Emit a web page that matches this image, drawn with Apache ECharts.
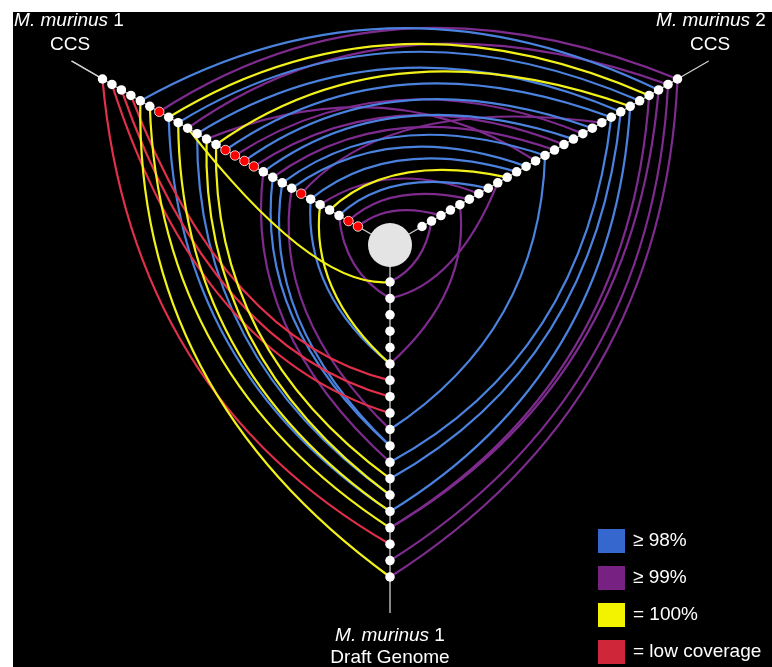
<!DOCTYPE html>
<html><head><meta charset="utf-8">
<script src="https://cdn.jsdelivr.net/npm/echarts@6/dist/echarts.min.js"></script>
<style>html,body{margin:0;padding:0;background:#fff}#c{width:772px;height:667px}</style>
</head><body><div id="c"></div>
<script>
// ---- axes ----
const AX_LEFT = 0, AX_RIGHT = 1, AX_BOTTOM = 2;
const axisAngles = [150, 30, 270];
const axisNodeCounts = [28, 28, 19];
// red (low coverage) nodes on the M. murinus 1 CCS axis, counted from the outer end
const leftRedNodes = [6, 13, 14, 15, 16, 21, 26, 27];

// ---- categories ----
const categories = ['≥ 98%', '≥ 99%', '= 100%', '= low coverage'];
const legendColors = ['#3567cf', '#772183', '#f3f300', '#d0263a'];
const lineColors = ['#4a82de', '#7e2b8e', '#f2f21a', '#e2304a'];

// ---- links: [node on first axis, node on second axis, category] ----
// CCS axes counted from the outer end, Draft Genome axis counted from the centre
const leftRightLinks = [
  [4, 2, 0], [6, 0, 1], [7, 3, 2], [8, 4, 0], [9, 1, 1], [10, 6, 0], [11, 15, 1],
  [12, 5, 2], [13, 7, 0], [14, 10, 1], [15, 9, 0], [16, 12, 1], [17, 11, 0],
  [18, 13, 1], [19, 14, 0], [20, 16, 0], [21, 8, 1], [22, 17, 0], [24, 18, 2],
  [25, 20, 0], [26, 22, 1], [27, 25, 1], [23, 21, 1]
];
const leftBottomLinks = [
  [0, 16, 3], [1, 8, 3], [2, 7, 3], [3, 6, 3],
  [4, 18, 2], [5, 15, 2], [7, 14, 0], [8, 14, 2], [9, 0, 2], [10, 13, 0], [11, 13, 2], [12, 12, 2],
  [17, 11, 1], [18, 10, 0], [19, 10, 0], [20, 9, 1], [22, 5, 0], [23, 5, 2], [25, 1, 1]
];
const rightBottomLinks = [
  [0, 18, 1], [1, 17, 1], [2, 15, 1], [3, 15, 1], [5, 14, 0], [6, 12, 0], [7, 11, 0],
  [14, 9, 0], [19, 1, 1], [23, 5, 1], [26, 0, 1]
];

// ---- layout constants (pixels) ----
const innerPx = 37, outerPx = 332, axisPx = 368;
const rMin = -innerPx / (outerPx - innerPx);
const rMax = (axisPx - innerPx) / (outerPx - innerPx);
const K = 0.95;

function nodeP(axis, idx) {
  const n = axisNodeCounts[axis];
  return axis === AX_BOTTOM ? idx / (n - 1) : 1 - idx / (n - 1);
}
function midAngle(a1, a2) {
  let x = axisAngles[a1], y = axisAngles[a2];
  if (Math.abs(x - y) > 180) { if (x < y) x += 360; else y += 360; }
  return ((x + y) / 2) % 360;
}

const linkData = [[], [], [], []];
leftRightLinks.forEach(l => linkData[l[2]].push([AX_LEFT, l[0], AX_RIGHT, l[1]]));
leftBottomLinks.forEach(l => linkData[l[2]].push([AX_LEFT, l[0], AX_BOTTOM, l[1]]));
rightBottomLinks.forEach(l => linkData[l[2]].push([AX_RIGHT, l[0], AX_BOTTOM, l[1]]));

function linkRender(cat) {
  return function (params, api) {
    const a1 = api.value(0), i1 = api.value(1), a2 = api.value(2), i2 = api.value(3);
    const P0 = api.coord([nodeP(a1, i1), axisAngles[a1]]);
    const P3 = api.coord([nodeP(a2, i2), axisAngles[a2]]);
    const O = api.coord([rMin, 0]);
    const r1 = Math.hypot(P0[0] - O[0], P0[1] - O[1]);
    const r2 = Math.hypot(P3[0] - O[0], P3[1] - O[1]);
    const rc = K * Math.sqrt(r1 * r2);
    const C = api.coord([(rc - innerPx) / (outerPx - innerPx), midAngle(a1, a2)]);
    return {
      type: 'bezierCurve',
      shape: { x1: P0[0], y1: P0[1], x2: P3[0], y2: P3[1], cpx1: C[0], cpy1: C[1] },
      style: { stroke: lineColors[cat], lineWidth: 2.2, fill: null }
    };
  };
}

const nodeData = [];
for (let a = 0; a < 3; a++) {
  for (let i = 0; i < axisNodeCounts[a]; i++) {
    const red = a === AX_LEFT && leftRedNodes.indexOf(i) >= 0;
    nodeData.push({
      value: [nodeP(a, i), axisAngles[a]],
      itemStyle: { color: red ? '#ff0000' : '#ffffff', borderColor: '#ffffff',
        borderWidth: red ? 0.8 : 0, opacity: 1 }
    });
  }
}

const series = [{
  type: 'custom', coordinateSystem: 'polar', silent: true, z: 1,
  data: [[0, 0], [1, 0], [2, 0]],
  renderItem: function (params, api) {
    const a = api.value(0);
    const A = api.coord([rMin, axisAngles[a]]);
    const B = api.coord([rMax, axisAngles[a]]);
    return { type: 'line', shape: { x1: A[0], y1: A[1], x2: B[0], y2: B[1] },
      style: { stroke: '#cfcfcf', lineWidth: 1.3 } };
  }
}];
[1, 0, 3, 2].forEach(c => {
  series.push({
    name: categories[c], type: 'custom', coordinateSystem: 'polar', silent: true, z: 2,
    itemStyle: { color: legendColors[c] },
    data: linkData[c], renderItem: linkRender(c)
  });
});
series.push({
  type: 'scatter', coordinateSystem: 'polar', symbol: 'circle', symbolSize: 9.5, z: 4,
  silent: true, data: nodeData, itemStyle: { opacity: 1 }
});
series.push({
  type: 'scatter', coordinateSystem: 'polar', symbol: 'circle', symbolSize: 44, z: 5,
  silent: true, data: [[rMin, 0]], itemStyle: { color: '#e4e4e4', opacity: 1 }
});

const labelFont = 'Liberation Sans, Arial, sans-serif';
function label(x, y, italic, rest) {
  return {
    type: 'text', x: x, y: y, silent: true, z: 10,
    style: {
      text: (italic ? '{i|' + italic + '}' : '') + rest,
      fill: '#ffffff', fontSize: 19, fontFamily: labelFont,
      align: 'center', verticalAlign: 'middle',
      rich: { i: { fontStyle: 'italic', fontSize: 19, fontFamily: labelFont, fill: '#ffffff' } }
    }
  };
}

const chart = echarts.init(document.getElementById('c'));
chart.setOption({
  backgroundColor: '#ffffff',
  animation: false,
  polar: { center: [390, 245], radius: axisPx },
  angleAxis: { type: 'value', min: 0, max: 360, startAngle: 0, clockwise: false, show: false },
  radiusAxis: { type: 'value', min: rMin, max: rMax, show: false },
  legend: {
    data: categories, orient: 'vertical', left: 598, top: 529, padding: 0,
    itemWidth: 27, itemHeight: 24, itemGap: 13, icon: 'rect', selectedMode: false,
    textStyle: { color: '#ffffff', fontSize: 19, fontFamily: labelFont, padding: [0, 0, 0, 3] }
  },
  graphic: [
    { type: 'rect', shape: { x: 13, y: 12, width: 759, height: 655 }, style: { fill: '#000000' }, z: -10, silent: true },
    { type: 'line', shape: { x1: 72, y1: 61, x2: 103, y2: 79 }, style: { stroke: '#cfcfcf', lineWidth: 1.3 }, z: -5, silent: true },
    label(69, 21, 'M. murinus', ' 1'),
    label(70, 45, '', 'CCS'),
    label(711, 21, 'M. murinus', ' 2'),
    label(710, 45, '', 'CCS'),
    label(390, 636, 'M. murinus', ' 1'),
    label(390, 658, '', 'Draft Genome')
  ],
  series: series
});
</script></body></html>
